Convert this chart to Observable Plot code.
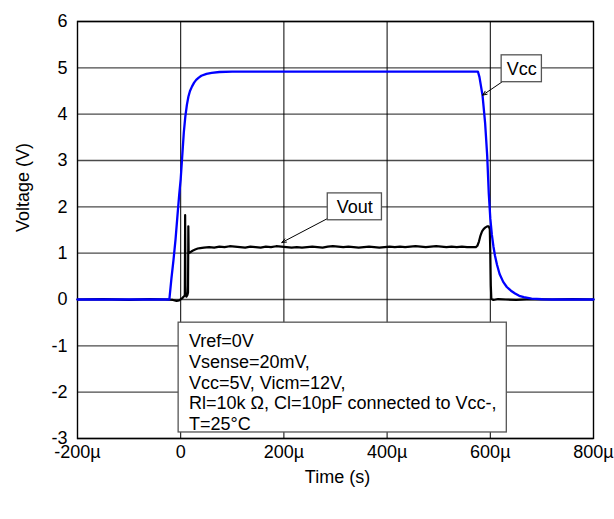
<!DOCTYPE html>
<html><head><meta charset="utf-8">
<script src="https://cdn.jsdelivr.net/npm/d3@7"></script>
<script src="https://cdn.jsdelivr.net/npm/@observablehq/plot@0.6"></script>
<style>
body{margin:0;background:#fff;}
#chart svg{display:block;}
</style>
</head><body><div id="chart"></div>
<script>
// ---- data (time in µs, voltage in V) ----
const xTicks = [-200, 0, 200, 400, 600, 800];
const yTicks = [-3, -2, -1, 0, 1, 2, 3, 4, 5, 6];

const vccTime = [-200, -100, -40, -22, -18, -14, -10, -6, -3, 0, 3, 6, 9, 12, 15, 18, 22, 26, 30, 35, 40, 50, 60, 75, 100, 200, 300, 400, 500, 576,
  579, 582, 585, 590, 594, 597, 600, 603, 606, 609, 613, 618, 625, 632, 640, 648, 656, 665, 680, 700, 720, 760, 800];
const vccVolt = [0, 0, 0, 0, 0.45, 0.85, 1.3, 1.85, 2.25, 2.6, 3.1, 3.6, 3.95, 4.2, 4.38, 4.5, 4.6, 4.68, 4.74, 4.79, 4.83, 4.87, 4.89, 4.91, 4.92, 4.92, 4.92, 4.92, 4.92, 4.92,
  4.8, 4.6, 4.4, 3.8, 3.1, 2.3, 1.75, 1.4, 1.15, 0.95, 0.75, 0.55, 0.38, 0.27, 0.19, 0.13, 0.08, 0.05, 0.02, 0.005, 0, 0, 0];

const voutTime = [-200, -150, -100, -60, -30, -15, -8, -3, 2, 5, 7, 8, 8.6, 9.2, 9.8, 11, 13, 14.2, 14.8, 15.4, 17, 20, 24, 28, 33, 38, 45,
  55, 65, 75, 85, 95, 105, 115, 125, 135, 145, 155, 165, 175, 185, 195, 205, 215, 225, 235, 245, 255, 265, 275, 285, 295,
  305, 315, 325, 335, 345, 355, 365, 375, 385, 395, 405, 415, 425, 435, 445, 455, 465, 475, 485, 495, 505, 515, 525, 535, 545, 555, 565,
  572, 575, 578, 581, 584, 587, 590, 594, 597, 599, 600, 601, 602, 606, 615, 630, 650, 680, 720, 760, 800];
const voutVolt = [0, 0.01, -0.01, 0.01, 0, -0.01, -0.03, -0.02, 0.02, 0.05, 0.08, 0.1, 1.82, 0.3, 0.1, 0.06, 0.1, 0.15, 1.58, 1.0, 1.01, 1.03, 1.06, 1.08, 1.1, 1.11, 1.12,
  1.13, 1.12, 1.14, 1.13, 1.15, 1.14, 1.13, 1.12, 1.14, 1.13, 1.12, 1.14, 1.13, 1.15, 1.14, 1.13, 1.12, 1.13, 1.12, 1.13, 1.14, 1.13, 1.12, 1.14, 1.15,
  1.14, 1.13, 1.14, 1.13, 1.12, 1.13, 1.14, 1.13, 1.12, 1.13, 1.14, 1.13, 1.14, 1.13, 1.14, 1.15, 1.14, 1.13, 1.14, 1.15, 1.14, 1.13, 1.14, 1.13, 1.14, 1.13, 1.13,
  1.13, 1.16, 1.25, 1.38, 1.47, 1.52, 1.55, 1.58, 1.58, 1.52, 1.0, 0.3, 0.02, -0.01, 0.01, 0, -0.01, 0.01, 0, 0.01, 0];

const noteLines = ["Vref=0V", "Vsense=20mV,", "Vcc=5V, Vicm=12V,", "Rl=10k \u03A9, Cl=10pF connected to Vcc-,", "T=25\u00B0C"];
const noteBox = {x1: -4, x2: 632, y1: -2.87, y2: -0.5, tx: 16, ty: -0.7};
const labels = [
  {name: "Vcc", x1: 622, x2: 700, y1: 4.69, y2: 5.27, tx: 661, ty: 4.98, ax: 622, ay: 4.69, hx: 585, hy: 4.41},
  {name: "Vout", x1: 285, x2: 390, y1: 1.71, y2: 2.29, tx: 337.5, ty: 2.0, ax: 285, ay: 1.75, hx: 196, hy: 1.23}
];

const vcc = vccTime.map((t, i) => ({t, v: vccVolt[i]}));
const vout = voutTime.map((t, i) => ({t, v: voutVolt[i]}));

const font = "'Liberation Sans', Arial, Helvetica, sans-serif";
const fs = 18;

const chart = Plot.plot({
  width: 614, height: 519,
  marginLeft: 77, marginRight: 21, marginTop: 21, marginBottom: 81,
  style: {fontFamily: font, fontSize: fs + "px", color: "#000", background: "#fff"},
  x: {type: "linear", domain: [-200, 800]},
  y: {type: "linear", domain: [-3, 6]},
  marks: [
    Plot.gridY(yTicks, {stroke: "#4a4a4a", strokeOpacity: 1, strokeWidth: 1.4}),
    Plot.gridX(xTicks, {stroke: "#000", strokeOpacity: 1, strokeWidth: 1}),
    Plot.frame({stroke: "#000", strokeWidth: 1.4}),
    Plot.axisX(xTicks, {tickSize: 0, tickPadding: 7, tickFormat: d => d === 0 ? "0" : d + "\u00B5", label: null, fontSize: fs}),
    Plot.axisY(yTicks, {tickSize: 0, tickPadding: 10, tickFormat: d => String(d), label: null, fontSize: fs}),
    Plot.line(vout, {x: "t", y: "v", stroke: "#000", strokeWidth: 2.2}),
    Plot.line(vcc, {x: "t", y: "v", stroke: "#0000ff", strokeWidth: 2.3}),
    Plot.rect([noteBox], {x1: "x1", x2: "x2", y1: "y1", y2: "y2", fill: "#fff", stroke: "#555", strokeWidth: 1.3}),
    Plot.text([noteLines.join("\n")], {x: noteBox.tx, y: noteBox.ty, textAnchor: "start", lineAnchor: "top", lineHeight: 1.16, fontSize: fs, fill: "#000"}),
    Plot.arrow(labels, {x1: "ax", y1: "ay", x2: "hx", y2: "hy", stroke: "#000", strokeWidth: 1, headLength: 7, headAngle: 45}),
    Plot.rect(labels, {x1: "x1", x2: "x2", y1: "y1", y2: "y2", fill: "#fff", stroke: "#555", strokeWidth: 1.3}),
    Plot.text(labels, {x: "tx", y: "ty", text: "name", fontSize: fs, fill: "#000"}),
    Plot.text(["Voltage (V)"], {frameAnchor: "left", dx: -54, dy: 2, rotate: -90, fontSize: fs, fill: "#000"}),
    Plot.text(["Time (s)"], {frameAnchor: "bottom", dy: 44, dx: 2, fontSize: fs, fill: "#000"})
  ]
});
document.getElementById("chart").appendChild(chart);
</script>
</body></html>
